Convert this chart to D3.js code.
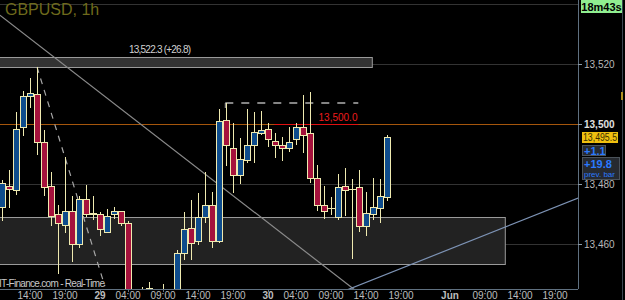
<!DOCTYPE html>
<html>
<head>
<meta charset="utf-8">
<script src="https://cdn.jsdelivr.net/npm/d3@7"></script>
<style>
  body { margin: 0; background: #000; }
  svg { display: block; font-family: "Liberation Sans", Arial, sans-serif; }
</style>
</head>
<body>
<div id="chart"></div>
<script>
// candle data: hour index, open, high, low, close
const hours = d3.range(0, 56);
const opens = [13472.4, 13479.4, 13477.8, 13499.1, 13509.4, 13510.1, 13493.8, 13479.4, 13470.1, 13466.4,
  13471.1, 13459.8, 13475.1, 13470.4, 13469.8, 13464.1, 13469.8, 13470.8, 13467.1, 13441,
  13442, 13444, 13443, 13443, 13442, 13440, 13457.1, 13465.4, 13460.8, 13469.1,
  13473.1, 13460.8, 13501.4, 13492.1, 13482.8, 13488.1, 13493.1, 13496.8, 13498.4, 13494.4,
  13493.1, 13491.8, 13495.1, 13498.8, 13496.8, 13482.1, 13472.8, 13472.1, 13469.1, 13479.4,
  13478.4, 13479.1, 13466.1, 13469.8, 13472.1, 13475.7];
const highs = [13481.4, 13484.8, 13504.1, 13511.1, 13515.4, 13519.1, 13498.1, 13484.1, 13473.1, 13489.1,
  13476.1, 13476.1, 13479.8, 13476.1, 13470.8, 13471.8, 13472.4, 13471.1, 13467.8, 13444.5,
  13445.8, 13447.4, 13444, 13446.8, 13444.5, 13458.1, 13470.8, 13474.8, 13477.1, 13484.1,
  13477.4, 13505.1, 13507.1, 13500.4, 13495.4, 13505.1, 13504.1, 13504.4, 13500.4, 13497.1,
  13495.8, 13499.1, 13500.4, 13509.8, 13510.8, 13486.4, 13479.4, 13475.8, 13483.4, 13485.4,
  13481.8, 13484.8, 13477.4, 13482.1, 13481.8, 13496.4];
const lows = [13467.8, 13472.1, 13476.4, 13496.1, 13505.4, 13489.8, 13476.1, 13466.1, 13450.1, 13463.8,
  13454.1, 13458.8, 13469.1, 13468.1, 13462.8, 13463.8, 13468.4, 13466.1, 13438, 13436,
  13438, 13440, 13437, 13439, 13439, 13438, 13454.8, 13454.8, 13459.8, 13467.1,
  13458.8, 13460.4, 13486.1, 13477.1, 13480.1, 13487.1, 13487.1, 13496.4, 13492.4, 13488.8,
  13487.8, 13490.8, 13493.1, 13490.4, 13480.4, 13471.1, 13468.4, 13469.8, 13468.1, 13469.4,
  13455.1, 13464, 13462.8, 13468.1, 13467.1, 13474.4];
const closes = [13480.4, 13478.4, 13498.4, 13509.4, 13510.4, 13494.1, 13479.1, 13469.4, 13466.8, 13471.1,
  13459.8, 13474.8, 13470.1, 13469.8, 13464.8, 13469.4, 13470.8, 13466.8, 13441.5, 13439,
  13443, 13445.4, 13441, 13444, 13443.5, 13457.1, 13465.1, 13460.4, 13469.1, 13473.1,
  13460.8, 13501.1, 13492.8, 13482.8, 13488.4, 13492.8, 13497.4, 13498.1, 13494.8, 13493.1,
  13491.8, 13494.1, 13499.1, 13496.4, 13482.1, 13473.1, 13471.1, 13471.8, 13479.1, 13478.1,
  13478.4, 13466.1, 13470.4, 13472.4, 13475.8, 13495.5];

// x axis ticks (hour index) and labels
const tickHours = [4, 9, 14, 18, 23, 28, 33, 38, 42, 47, 52, 57, 64, 69, 74, 79];
const tickLabels = ["14:00", "19:00", "29", "04:00", "09:00", "14:00", "19:00", "30", "04:00",
  "09:00", "14:00", "19:00", "Jun", "09:00", "14:00", "19:00"];
const priceTicks = [13460, 13480, 13500, 13520];
const gridPrices = [13460, 13480, 13520, 13540];

// drawings: [hour, price] pairs
const downTrend = [[-0.3, 13536.4], [50.4, 13444.8]];
const upTrend = [[49.3, 13444.8], [82.3, 13475.4]];
const dashTrend = [[5, 13519.1], [14.7, 13446]];
const topZone = { h0: -1, h1: 52.9, p0: 13519.1, p1: 13522.3 };
const lowZone = { h0: -1, h1: 71.9, p0: 13453.4, p1: 13469.1 };
const dashLevel = { h0: 31.9, h1: 50.9, p: 13507.1 };
const redLevel = { h0: 38.9, h1: 50.9, p: 13500 };
const lastPrice = 13495.5;

const w = 625, h = 300;
const axisX = 578, axisY = 289;

const svg = d3.select("#chart").append("svg")
  .attr("width", w).attr("height", h)
  .style("background", "#000");

const xScale = d3.scaleLinear().domain([0, 80]).range([2, 562]);
const yScale = d3.scaleLinear().domain([13440, 13540]).range([304.3, 4.3]);
const fmt = d3.format(",");

svg.append("clipPath").attr("id", "plot")
  .append("rect").attr("x", 0).attr("y", 0).attr("width", axisX).attr("height", axisY);

const plot = svg.append("g").attr("clip-path", "url(#plot)");

// grid
plot.selectAll(".grid").data(gridPrices).enter().append("line")
  .attr("x1", 0).attr("x2", axisX)
  .attr("y1", d => Math.round(yScale(d)) + 0.5).attr("y2", d => Math.round(yScale(d)) + 0.5)
  .attr("stroke", "#333").attr("stroke-width", 1);

// 13,500 level
plot.append("line")
  .attr("x1", 0).attr("x2", axisX)
  .attr("y1", Math.round(yScale(13500)) + 0.5).attr("y2", Math.round(yScale(13500)) + 0.5)
  .attr("stroke", "#a5560c");

// zones
[topZone, lowZone].forEach(z => {
  plot.append("rect")
    .attr("x", xScale(z.h0)).attr("y", Math.round(yScale(z.p1)) + 0.5)
    .attr("width", xScale(z.h1) - xScale(z.h0))
    .attr("height", Math.round(yScale(z.p0) - yScale(z.p1)))
    .attr("fill", z === topZone ? "#333" : "#222")
    .attr("stroke", "#9a9a9a").attr("stroke-width", 1);
});

svg.append("text")
  .text("13,522.3 (+26.8)")
  .attr("x", 160).attr("y", yScale(topZone.p1) - 4)
  .attr("text-anchor", "middle")
  .attr("textLength", 62)
  .attr("fill", "#d0d0d0").style("font-size", "10px");

const line = d3.line().x(d => xScale(d[0])).y(d => yScale(d[1]));

plot.append("path").attr("d", line(downTrend))
  .attr("fill", "none").attr("stroke", "#8a8a8a").attr("stroke-width", 1.2);
plot.append("path").attr("d", line(upTrend))
  .attr("fill", "none").attr("stroke", "#7d93b5").attr("stroke-width", 1.2);
plot.append("path").attr("d", line(dashTrend))
  .attr("fill", "none").attr("stroke", "#a8a8a8").attr("stroke-width", 1.2)
  .attr("stroke-dasharray", "6,6");

// dashed high level
plot.append("line")
  .attr("x1", xScale(dashLevel.h0)).attr("x2", xScale(dashLevel.h1))
  .attr("y1", yScale(dashLevel.p)).attr("y2", yScale(dashLevel.p))
  .attr("stroke", "#b0b0b0").attr("stroke-width", 1.5).attr("stroke-dasharray", "8,8");
plot.append("line")
  .attr("x1", xScale(dashLevel.h0)).attr("x2", xScale(dashLevel.h0))
  .attr("y1", yScale(dashLevel.p)).attr("y2", yScale(dashLevel.p) + 5)
  .attr("stroke", "#b0b0b0").attr("stroke-width", 1);

// red level + label
plot.append("line")
  .attr("x1", xScale(redLevel.h0)).attr("x2", xScale(redLevel.h1))
  .attr("y1", Math.round(yScale(redLevel.p)) + 0.5).attr("y2", Math.round(yScale(redLevel.p)) + 0.5)
  .attr("stroke", "#e01010").attr("stroke-width", 1);
svg.append("text")
  .text("13,500.0")
  .attr("x", 338).attr("y", yScale(redLevel.p) - 3)
  .attr("text-anchor", "middle")
  .attr("fill", "#ee1c1c").style("font-size", "10px");

// candles
const candles = hours.map((d, i) => ({ h: d, o: opens[i], hi: highs[i], lo: lows[i], c: closes[i] }));
const cg = plot.append("g").attr("shape-rendering", "crispEdges");
cg.selectAll(".wick").data(candles).enter().append("line")
  .attr("x1", d => Math.round(xScale(d.h)) + 0.5).attr("x2", d => Math.round(xScale(d.h)) + 0.5)
  .attr("y1", d => yScale(d.hi)).attr("y2", d => yScale(d.lo))
  .attr("stroke", "#efeab0");
cg.selectAll(".body").data(candles).enter().append("rect")
  .attr("x", d => Math.round(xScale(d.h)) - 2.5)
  .attr("y", d => yScale(Math.max(d.o, d.c)))
  .attr("width", 6)
  .attr("height", d => Math.max(0.5, Math.abs(yScale(d.o) - yScale(d.c))))
  .attr("fill", d => d.c > d.o ? "#0e4c8c" : d.c < d.o ? "#a5123c" : "#efeab0")
  .attr("stroke", "#efeab0").attr("stroke-width", 1);

// watermark
svg.append("text")
  .text("IT-Finance.com - Real-Time")
  .attr("x", -1).attr("y", 287)
  .attr("textLength", 106)
  .attr("fill", "#c8c8c8").style("font-size", "10px");

// axes lines
svg.append("line").attr("x1", 0).attr("x2", axisX).attr("y1", axisY + 0.5).attr("y2", axisY + 0.5)
  .attr("stroke", "#5f7080");
svg.append("line").attr("x1", axisX + 0.5).attr("x2", axisX + 0.5).attr("y1", 0).attr("y2", axisY)
  .attr("stroke", "#5f7080");
svg.append("line").attr("x1", 622.5).attr("x2", 622.5).attr("y1", 0).attr("y2", h)
  .attr("stroke", "#3c4650");

// x ticks
const xt = svg.append("g");
xt.selectAll("line").data(tickHours).enter().append("line")
  .attr("x1", d => Math.round(xScale(d)) + 0.5).attr("x2", d => Math.round(xScale(d)) + 0.5)
  .attr("y1", axisY).attr("y2", axisY + 3)
  .attr("stroke", "#5f7080");
xt.selectAll("text").data(tickHours).enter().append("text")
  .text((d, i) => tickLabels[i])
  .attr("x", d => xScale(d))
  .attr("y", 299)
  .attr("text-anchor", "middle")
  .attr("fill", "#bdbdbd")
  .style("font-size", "10px")
  .style("font-weight", (d, i) => /:/.test(tickLabels[i]) ? "normal" : "bold");

// y ticks
const yt = svg.append("g");
yt.selectAll("line").data(priceTicks).enter().append("line")
  .attr("x1", axisX).attr("x2", axisX + 4)
  .attr("y1", d => Math.round(yScale(d)) + 0.5).attr("y2", d => Math.round(yScale(d)) + 0.5)
  .attr("stroke", "#8a9aa8");
yt.selectAll("text").data(priceTicks).enter().append("text")
  .text(d => fmt(d))
  .attr("x", axisX + 6)
  .attr("y", d => yScale(d) + 4)
  .attr("fill", d => d === 13500 ? "#e0e0e0" : "#b8b8b8")
  .style("font-size", "10px")
  .style("font-weight", d => d === 13500 ? "bold" : "normal");

// price tags
const py = yScale(lastPrice);
svg.append("rect").attr("x", 582).attr("y", Math.round(py) - 6).attr("width", 36).attr("height", 11)
  .attr("fill", "#f0c010");
svg.append("text").text(d3.format(",.1f")(lastPrice))
  .attr("x", 583).attr("y", Math.round(py) + 3)
  .attr("textLength", 34)
  .attr("lengthAdjust", "spacingAndGlyphs")
  .attr("fill", "#3a3000").style("font-size", "10px");

svg.append("rect").attr("x", 582.5).attr("y", 145.5).attr("width", 23).attr("height", 10)
  .attr("fill", "#262a30").attr("stroke", "#4a525a");
svg.append("text").text("+1.1")
  .attr("x", 584).attr("y", 155)
  .attr("fill", "#2a7aff").style("font-size", "11px").style("font-weight", "bold");

svg.append("rect").attr("x", 582.5).attr("y", 157.5).attr("width", 37).attr("height", 22)
  .attr("fill", "#262a30").attr("stroke", "#4a525a");
svg.append("text").text("+19.8")
  .attr("x", 584).attr("y", 168)
  .attr("fill", "#2a7aff").style("font-size", "11px").style("font-weight", "bold");
svg.append("text").text("prev. bar")
  .attr("x", 584).attr("y", 177)
  .attr("fill", "#2a7aff").style("font-size", "8px");

// countdown
svg.append("rect").attr("x", 581).attr("y", 0).attr("width", 41).attr("height", 13)
  .attr("fill", "#90ee90");
svg.append("text").text("18m43s")
  .attr("x", 601.5).attr("y", 10.5)
  .attr("text-anchor", "middle")
  .attr("fill", "#000").style("font-size", "11px").style("font-weight", "bold");
svg.append("rect").attr("x", 621).attr("y", 92).attr("width", 2).attr("height", 8)
  .attr("fill", "#b09020");

// title
svg.append("text").text("GBPUSD, 1h")
  .attr("x", 5).attr("y", 15)
  .attr("fill", "#6e6a1c")
  .style("font-size", "16px");
</script>
</body>
</html>
